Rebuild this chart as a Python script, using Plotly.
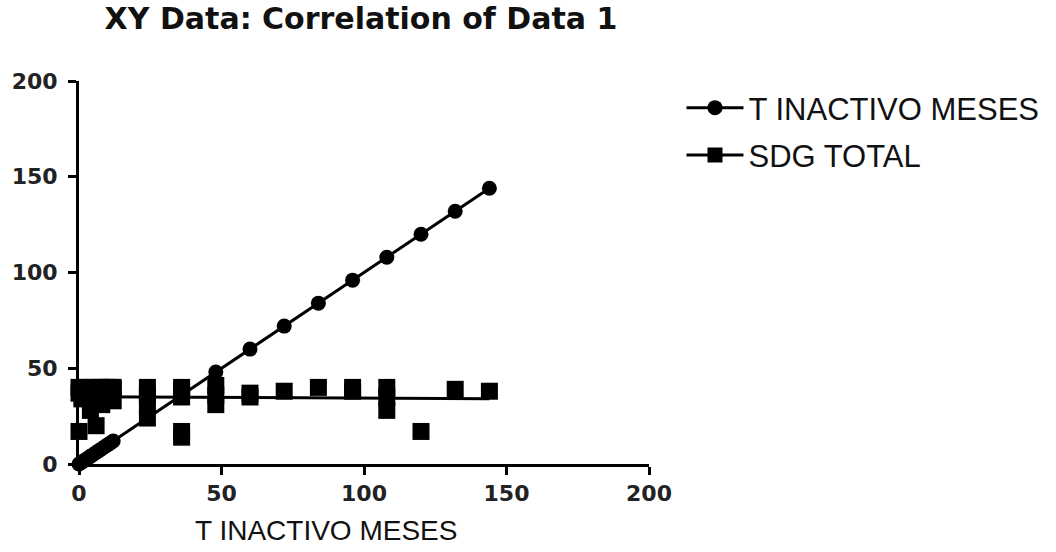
import numpy as np
import plotly.graph_objects as go

# T INACTIVO MESES plotted against itself
t_x = [0, 1, 2, 3, 4, 5, 6, 7, 8, 9, 10, 11, 12, 24, 36, 48, 60, 72, 84, 96, 108, 120, 132, 144]
t_y = [0, 1, 2, 3, 4, 5, 6, 7, 8, 9, 10, 11, 12, 24, 36, 48, 60, 72, 84, 96, 108, 120, 132, 144]

# SDG TOTAL against T INACTIVO MESES
sdg_x = [0, 0, 0, 1, 1, 2, 2, 3, 3, 4, 4, 5, 5, 6, 6, 6, 7, 7, 8, 8, 9, 9, 10, 10, 11, 11, 12, 12, 12,
         24, 24, 24, 24,
         36, 36, 36, 36, 36,
         48, 48, 48,
         60, 60, 72, 84, 96, 96,
         108, 108, 108, 120, 132, 144]
sdg_y = [17, 37, 40, 34, 38, 40, 37, 36, 39, 28, 38, 37, 40, 20, 38, 35, 40, 37, 31, 40, 39, 35, 40, 37, 40, 38, 33, 39, 40,
         40, 36, 31, 24,
         40, 38, 35, 17, 14,
         41, 36, 31,
         37, 35, 38, 40, 40, 38,
         40, 35, 28, 17, 39, 38]

t_name = "T INACTIVO MESES"
sdg_name = "SDG TOTAL"
x_ticks = [0, 50, 100, 150, 200]
y_ticks = [0, 50, 100, 150, 200]

# linear fit for SDG TOTAL over the data range
slope, intercept = np.polyfit(sdg_x, sdg_y, 1)
fit_x = [min(sdg_x), max(sdg_x)]
fit_y = [intercept + slope * v for v in fit_x]

LW = 3
fig = go.Figure()
fig.add_trace(go.Scatter(
    x=t_x, y=t_y, mode="lines+markers", name=t_name, legendgroup="a",
    line=dict(color="black", width=LW),
    marker=dict(symbol="circle", size=15, color="black"),
    cliponaxis=False,
))
fig.add_trace(go.Scatter(
    x=fit_x, y=fit_y, mode="lines", showlegend=False,
    line=dict(color="black", width=LW), cliponaxis=False,
))
fig.add_trace(go.Scatter(
    x=sdg_x, y=sdg_y, mode="markers", showlegend=False,
    marker=dict(symbol="square", size=17, color="black"),
    cliponaxis=False,
))
fig.add_trace(go.Scatter(
    x=[None], y=[None], mode="lines+markers", name=sdg_name, legendgroup="b",
    line=dict(color="black", width=LW),
    marker=dict(symbol="square", size=15, color="black"),
))

axis_common = dict(
    showgrid=False, zeroline=False, showline=True, linecolor="black", linewidth=3,
    ticks="outside", ticklen=8, tickwidth=3, tickcolor="black",
    tickfont=dict(family="DejaVu Sans, Liberation Sans, sans-serif", size=22, color="#222222", weight="bold"),
    range=[0, 200], fixedrange=True,
)
fig.update_xaxes(tickvals=x_ticks, **axis_common)
fig.update_yaxes(tickvals=y_ticks, ticklabelstandoff=6, **axis_common)

W, H = 1056, 552
fig.update_layout(
    width=W, height=H,
    margin=dict(l=72, r=404, t=81, b=88),
    paper_bgcolor="white", plot_bgcolor="white",
    title=dict(
        text="XY Data: Correlation of Data 1",
        font=dict(family="DejaVu Sans, Liberation Sans, sans-serif", size=30, color="#111111", weight="bold"),
        x=361 / W, xanchor="center", xref="container",
        y=1 - 18 / H, yanchor="middle", yref="container",
    ),
    legend=dict(
        x=1.057, y=1.0, xanchor="left", yanchor="top",
        font=dict(family="Liberation Sans, Arial, sans-serif", size=31, color="#111111"),
        itemwidth=57, tracegroupgap=4, traceorder="grouped", bgcolor="rgba(0,0,0,0)",
    ),
    annotations=[dict(
        text=t_name, xref="paper", yref="paper",
        x=(323 - 72) / 580, y=-(530 - 464) / 383, xanchor="center", yanchor="middle", showarrow=False,
        font=dict(family="Liberation Sans, Arial, sans-serif", size=28, color="#111111"),
    )],
)

fig.write_html("out.html", config={"displayModeBar": False},
               post_script="document.body.style.margin='0';")
